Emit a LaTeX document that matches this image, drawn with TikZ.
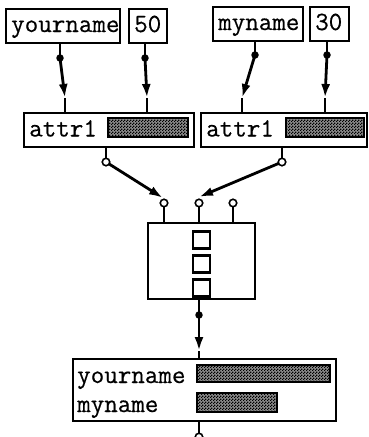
\documentclass[tikz,border=0pt]{standalone}
\usepackage{fontspec}
\newfontfamily\codefont{Latin Modern Mono}[FakeBold=0.45]
\usetikzlibrary{arrows.meta,patterns}
% fine checkerboard used for the value bars
\pgfdeclarepatternformonly{checker}{\pgfpointorigin}{\pgfqpoint{3pt}{3pt}}{\pgfqpoint{3pt}{3pt}}{%
  \pgfpathrectangle{\pgfpointorigin}{\pgfqpoint{1.5pt}{1.5pt}}%
  \pgfpathrectangle{\pgfqpoint{1.5pt}{1.5pt}}{\pgfqpoint{1.5pt}{1.5pt}}%
  \pgfusepath{fill}}
\tikzset{
  box/.style={draw, line width=2.5pt, fill=white, inner sep=0pt},
  lbl/.style={font=\codefont\fontsize{26.3}{28}\selectfont, inner sep=0pt, anchor=base west},
  bar/.style={draw, line width=2pt, preaction={fill=black!45}, pattern=checker, pattern color=black},
  wire/.style={line width=2.8pt},
  flow/.style={wire, -{Latex[length=14pt,width=9pt]}},
  dotf/.style={circle, fill=black, inner sep=0pt, minimum size=7.5pt},
  doto/.style={circle, draw, fill=white, line width=1.6pt, inner sep=0pt, minimum size=7.5pt},
}
\begin{document}
\begin{tikzpicture}[x=1pt,y=-1pt]
\useasboundingbox (0,0) rectangle (368,437);

% ---- source fields ----
\node[box, minimum width=114pt, minimum height=34pt] (yn) at (63,26) {};
\node[lbl] (ynT) at (11,32) {yourname};
\node[box, minimum width=38pt, minimum height=34pt] (v50) at (148,26) {};
\node[lbl] (v50T) at (134,32) {50};
\node[box, minimum width=90pt, minimum height=34pt] (mn) at (258,24) {};
\node[lbl] (mnT) at (218,30) {myname};
\node[box, minimum width=39pt, minimum height=34pt] (v30) at (329.5,24) {};
\node[lbl] (v30T) at (315,30) {30};

% ---- attribute records ----
\node[box, minimum width=170pt, minimum height=34pt] (a1) at (109,130) {};
\node[lbl] (a1T) at (29,136.5) {attr1};
\node[bar, minimum width=80pt, minimum height=19pt, inner sep=0pt] (a1B) at (148,127) {};
\node[box, minimum width=166pt, minimum height=34pt] (a2) at (284,130) {};
\node[lbl] (a2T) at (206,136.5) {attr1};
\node[bar, minimum width=78pt, minimum height=19pt, inner sep=0pt] (a2B) at (325,127) {};

% ---- combining block ----
\node[box, minimum width=107pt, minimum height=76pt] (mid) at (201.5,261) {};
\foreach \i/\yy in {1/240,2/264,3/288}
  \node[draw, line width=2.5pt, minimum size=17pt, inner sep=0pt] (sq\i) at (201.5,\yy) {};

% ---- result record ----
\node[box, minimum width=263pt, minimum height=62pt] (res) at (204.5,390) {};
\node[lbl] (resT1) at (77,383) {yourname};
\node[lbl] (resT2) at (77,412) {myname};
\node[bar, minimum width=133pt, minimum height=17pt, inner sep=0pt] (resB1) at (263.5,373.5) {};
\node[bar, minimum width=80pt, minimum height=19pt, inner sep=0pt] (resB2) at (237,402.5) {};

% ---- port points ----
\coordinate (ynO) at (60,58);
\coordinate (v50O) at (145,58);
\coordinate (mnO) at (255,55);
\coordinate (v30O) at (327,55);
\coordinate (a1I1) at (65,98);
\coordinate (a1I2) at (147,98);
\coordinate (a2I1) at (242,98);
\coordinate (a2I2) at (325,98);
\coordinate (a1O) at (106,162);
\coordinate (a2O) at (282,162);
\coordinate (midI1) at (164,203);
\coordinate (midI2) at (199,203);
\coordinate (midI3) at (233,203);
\coordinate (midO) at (199,315);
\coordinate (resI) at (199,351);
\coordinate (resO) at (199,437);

% stubs
\draw[wire] (ynO |- yn.south) -- (ynO);
\draw[wire] (v50O |- v50.south) -- (v50O);
\draw[wire] (mnO |- mn.south) -- (mnO);
\draw[wire] (v30O |- v30.south) -- (v30O);
\draw[wire] (a1I1) -- (a1I1 |- a1.north);
\draw[wire] (a1I2) -- (a1I2 |- a1.north);
\draw[wire] (a2I1) -- (a2I1 |- a2.north);
\draw[wire] (a2I2) -- (a2I2 |- a2.north);
\draw[wire] (a1O |- a1.south) -- (a1O);
\draw[wire] (a2O |- a2.south) -- (a2O);
\draw[wire] (midI1) -- (midI1 |- mid.north);
\draw[wire] (midI2) -- (midI2 |- mid.north);
\draw[wire] (midI3) -- (midI3 |- mid.north);
\draw[wire] (midO |- mid.south) -- (midO);
\draw[wire] (resI) -- (resI |- res.north);
\draw[wire] (resO |- res.south) -- (resO);

% connections
\draw[flow] (ynO) -- (a1I1);
\draw[flow] (v50O) -- (a1I2);
\draw[flow] (mnO) -- (a2I1);
\draw[flow] (v30O) -- (a2I2);
\draw[flow] (a1O) -- ([xshift=-1pt,yshift=5pt]midI1);
\draw[flow] (a2O) -- ([yshift=6pt]midI2);
\draw[flow] (midO) -- (resI);

% port markers
\foreach \p in {ynO,v50O,mnO,v30O,midO}
  \node[dotf] at (\p) {};
\foreach \p in {a1O,a2O,midI1,midI2,midI3,resO}
  \node[doto] at (\p) {};
\end{tikzpicture}
\end{document}
